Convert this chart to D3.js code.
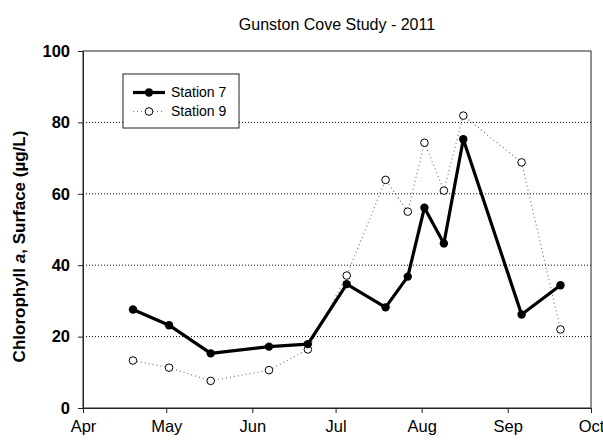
<!DOCTYPE html>
<html>
<head>
<meta charset="utf-8">
<script src="https://cdn.jsdelivr.net/npm/d3@7"></script>
<style>
body { margin: 0; background: #fff; }
svg { display: block; font-family: "Liberation Sans", Arial, sans-serif; }
</style>
</head>
<body>
<svg id="chart" width="603" height="445"></svg>
<script>
const dates = ["2011-04-19","2011-05-02","2011-05-17","2011-06-07","2011-06-21","2011-07-05","2011-07-19","2011-07-27","2011-08-02","2011-08-09","2011-08-16","2011-09-06","2011-09-20"];
const station7 = [27.6, 23.2, 15.3, 17.2, 17.9, 34.7, 28.2, 36.8, 56.1, 46.1, 75.3, 26.2, 34.4];
const station9 = [13.3, 11.3, 7.6, 10.6, 16.4, 37.1, 63.9, 55.0, 74.3, 60.9, 81.9, 68.8, 22.0];
const monthTicks = ["2011-04-01","2011-05-01","2011-06-01","2011-07-01","2011-08-01","2011-09-01","2011-10-01"];
const monthLabels = ["Apr","May","Jun","Jul","Aug","Sep","Oct"];
const yTicks = [0, 20, 40, 60, 80, 100];
const gridValues = [20, 40, 60, 80];
const seriesNames = ["Station 7", "Station 9"];

const parse = d3.utcParse("%Y-%m-%d");
const svg = d3.select("#chart");
const m = {left: 83, right: 591, top: 51, bottom: 408};

const x = d3.scaleUtc().domain([parse(monthTicks[0]), parse(monthTicks[monthTicks.length-1])]).range([m.left, m.right]);
const y = d3.scaleLinear().domain([0, 100]).range([m.bottom, m.top]);

// gridlines
svg.append("g").selectAll("line").data(gridValues).join("line")
  .attr("x1", m.left).attr("x2", m.right)
  .attr("y1", d => y(d)).attr("y2", d => y(d))
  .attr("stroke", "#000").attr("stroke-width", 1).attr("stroke-dasharray", "1,2");

// frame
svg.append("rect").attr("x", m.left).attr("y", m.top)
  .attr("width", m.right - m.left).attr("height", m.bottom - m.top)
  .attr("fill", "none").attr("stroke", "#222").attr("stroke-width", 1);

// x axis
const xAxis = d3.axisBottom(x)
  .tickValues(monthTicks.map(parse))
  .tickFormat((d, i) => monthLabels[i])
  .tickSize(5).tickPadding(7);
const gx = svg.append("g").attr("transform", `translate(0,${m.bottom})`).call(xAxis);
gx.select(".domain").attr("stroke", "#222");
gx.selectAll(".tick line").attr("stroke", "#222");
gx.selectAll("text").attr("font-size", 16.5).attr("font-family", "Liberation Sans, Arial, sans-serif").attr("fill", "#000");

// y axis
const yAxis = d3.axisLeft(y).tickValues(yTicks).tickFormat(d3.format("d")).tickSize(5).tickPadding(8);
const gy = svg.append("g").attr("transform", `translate(${m.left},0)`).call(yAxis);
gy.select(".domain").attr("stroke", "#222");
gy.selectAll(".tick line").attr("stroke", "#222");
gy.selectAll("text").attr("font-size", 16.5).attr("font-weight", "bold").attr("font-family", "Liberation Sans, Arial, sans-serif").attr("fill", "#000");

// title
svg.append("text").attr("x", (m.left + m.right) / 2).attr("y", 30)
  .attr("text-anchor", "middle").attr("font-size", 16).text("Gunston Cove Study - 2011");

// y title
const yt = svg.append("text")
  .attr("transform", `translate(25,${(m.top + m.bottom) / 2 + 17}) rotate(-90)`)
  .attr("text-anchor", "middle").attr("font-size", 17).attr("font-weight", "bold");
yt.append("tspan").text("Chlorophyll ");
yt.append("tspan").attr("font-style", "italic").text("a");
yt.append("tspan").text(", Surface (µg/L)");

const data7 = dates.map((d, i) => ({date: parse(d), v: station7[i]}));
const data9 = dates.map((d, i) => ({date: parse(d), v: station9[i]}));
const line = d3.line().x(d => x(d.date)).y(d => y(d.v));

// station 9
svg.append("path").datum(data9).attr("d", line)
  .attr("fill", "none").attr("stroke", "#777").attr("stroke-width", 1.2).attr("stroke-dasharray", "1,3");
// station 7
svg.append("path").datum(data7).attr("d", line)
  .attr("fill", "none").attr("stroke", "#000").attr("stroke-width", 3.2).attr("stroke-linejoin", "round");
svg.append("g").selectAll("circle").data(data9).join("circle")
  .attr("cx", d => x(d.date)).attr("cy", d => y(d.v)).attr("r", 3.8)
  .attr("fill", "#fff").attr("stroke", "#000").attr("stroke-width", 1);
svg.append("g").selectAll("circle").data(data7).join("circle")
  .attr("cx", d => x(d.date)).attr("cy", d => y(d.v)).attr("r", 4.2)
  .attr("fill", "#000");

// legend
const lg = svg.append("g");
lg.append("rect").attr("x", 123).attr("y", 74).attr("width", 116).attr("height", 54)
  .attr("fill", "#fff").attr("stroke", "#222").attr("stroke-width", 1);
const rows = [92.5, 111.5];
lg.append("line").attr("x1", 133).attr("x2", 165).attr("y1", rows[0]).attr("y2", rows[0])
  .attr("stroke", "#000").attr("stroke-width", 3.2);
lg.append("circle").attr("cx", 149).attr("cy", rows[0]).attr("r", 4.2).attr("fill", "#000");
lg.append("line").attr("x1", 133).attr("x2", 165).attr("y1", rows[1]).attr("y2", rows[1])
  .attr("stroke", "#777").attr("stroke-width", 1.2).attr("stroke-dasharray", "1,3");
lg.append("circle").attr("cx", 149).attr("cy", rows[1]).attr("r", 3.8).attr("fill", "#fff").attr("stroke", "#000");
lg.selectAll("text.lab").data(seriesNames).join("text").attr("class", "lab")
  .attr("x", 171).attr("y", (d, i) => rows[i]).attr("dy", "0.35em")
  .attr("font-size", 14).text(d => d);
</script>
</body>
</html>
